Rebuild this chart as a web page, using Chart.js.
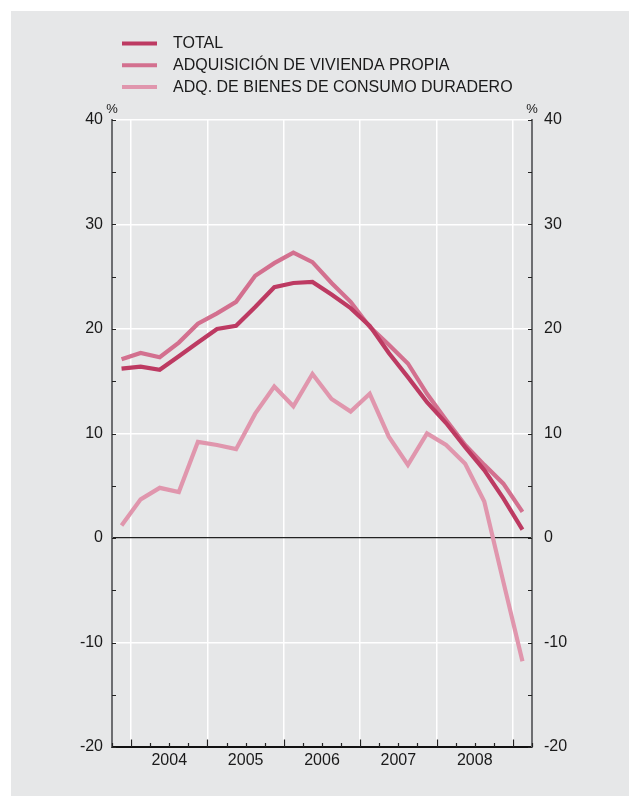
<!DOCTYPE html>
<html lang="es">
<head>
<meta charset="utf-8">
<title>Crédito a hogares</title>
<script src="https://cdn.jsdelivr.net/npm/chart.js@4.4.1/dist/chart.umd.min.js"></script>
<style>
  html, body { margin: 0; padding: 0; background: #fff; }
  canvas { display: block; }
</style>
</head>
<body>
<canvas id="chart" width="629" height="796"></canvas>
<script>
// Quarterly series, 2003 Q4 to 2009 Q1 (year-on-year rate, %)
const quarters = ['2003T4',
  '2004T1', '2004T2', '2004T3', '2004T4',
  '2005T1', '2005T2', '2005T3', '2005T4',
  '2006T1', '2006T2', '2006T3', '2006T4',
  '2007T1', '2007T2', '2007T3', '2007T4',
  '2008T1', '2008T2', '2008T3', '2008T4',
  '2009T1'];
const total = [16.2, 16.4, 16.1, 17.4, 18.7, 20.0, 20.3, 22.1, 24.0, 24.4, 24.5,
  23.3, 22.0, 20.3, 17.7, 15.4, 13.0, 11.0, 8.7, 6.5, 3.8, 0.8];
const vivienda = [17.1, 17.7, 17.3, 18.7, 20.5, 21.5, 22.6, 25.1, 26.3, 27.3, 26.4,
  24.4, 22.6, 20.2, 18.5, 16.7, 13.8, 11.3, 8.9, 7.0, 5.2, 2.5];
const consumo = [1.2, 3.7, 4.8, 4.4, 9.2, 8.9, 8.5, 11.9, 14.5, 12.6, 15.7,
  13.3, 12.1, 13.8, 9.7, 7.0, 10.0, 8.9, 7.1, 3.5, -4.2, -11.8];

const seriesLabels = ['TOTAL', 'ADQUISICIÓN DE VIVIENDA PROPIA', 'ADQ. DE BIENES DE CONSUMO DURADERO'];
const seriesColors = ['#bd3a62', '#d3708f', '#e096ad'];

// x axis: one unit per quarter, year labels centred on each year
const yearLabels = ['2004', '2005', '2006', '2007', '2008'];
const firstYearStart = 1;   // 2004 T1 starts one quarter in
const yMin = -20, yMax = 40, yStep = 5;

const points = s => s.map((v, i) => ({ x: i + 0.5, y: v }));

const BG = '#e6e7e8';
const AXIS_GREY = '#6d6e71';
const TEXT = '#1a1a1a';
const FONT = '"Liberation Sans", Arial, Helvetica, sans-serif';

const panelBackground = {
  id: 'panelBackground',
  beforeDraw(chart) {
    const c = chart.ctx;
    c.save();
    c.fillStyle = '#fff';
    c.fillRect(0, 0, chart.width, chart.height);
    c.fillStyle = BG;
    c.fillRect(11, 11, chart.width - 11, chart.height - 11);
    c.restore();
  }
};

// legend drawn as a vertical list above the plot
const stackedLegend = {
  id: 'stackedLegend',
  afterDraw(chart) {
    const c = chart.ctx;
    c.save();
    c.font = '16px ' + FONT;
    c.textBaseline = 'middle';
    chart.data.datasets.forEach((ds, i) => {
      const y = 44 + i * 21.7;
      c.strokeStyle = ds.borderColor;
      c.lineWidth = 4;
      c.beginPath();
      c.moveTo(122, y - 0.5);
      c.lineTo(157, y - 0.5);
      c.stroke();
      c.fillStyle = TEXT;
      c.fillText(ds.label, 173, y);
    });
    c.restore();
  }
};

// inward tick marks on the three axes plus the % units
const axisMarks = {
  id: 'axisMarks',
  afterDatasetsDraw(chart) {
    const c = chart.ctx;
    const x = chart.scales.x, y = chart.scales.y;
    const a = chart.chartArea;
    c.save();
    c.strokeStyle = '#222';
    c.lineWidth = 1.2;
    for (let v = yMin; v <= yMax; v += yStep) {
      const py = Math.round(y.getPixelForValue(v)) + 0.5;
      c.beginPath();
      c.moveTo(a.left, py); c.lineTo(a.left + 4, py);
      c.moveTo(a.right, py); c.lineTo(a.right - 4, py);
      c.stroke();
    }
    for (let q = 0; q <= quarters.length; q++) {
      const px = Math.round(x.getPixelForValue(q)) + 0.5;
      const len = (q - firstYearStart) % 4 === 0 ? 7.5 : 4;
      c.beginPath();
      c.moveTo(px, a.bottom); c.lineTo(px, a.bottom - len);
      c.stroke();
    }
    c.fillStyle = TEXT;
    c.font = '13px ' + FONT;
    c.textAlign = 'center';
    c.textBaseline = 'middle';
    c.fillText('%', a.left, 109);
    c.fillText('%', a.right, 109);
    c.restore();
  }
};

const yearTick = v => {
  const k = (v - firstYearStart - 2) / 4;
  return Number.isInteger(k) && k >= 0 && k < yearLabels.length ? yearLabels[k] : '';
};

new Chart(document.getElementById('chart'), {
  type: 'line',
  data: {
    datasets: [
      { label: seriesLabels[0], data: points(total), borderColor: seriesColors[0] },
      { label: seriesLabels[1], data: points(vivienda), borderColor: seriesColors[1] },
      { label: seriesLabels[2], data: points(consumo), borderColor: seriesColors[2] }
    ]
  },
  options: {
    responsive: false,
    animation: false,
    devicePixelRatio: 1,
    layout: { padding: { top: 120, left: 0, right: 0, bottom: 0 } },
    elements: {
      line: { borderWidth: 4.2, tension: 0, borderJoinStyle: 'miter', borderCapStyle: 'butt' },
      point: { radius: 0 }
    },
    plugins: {
      legend: { display: false },
      tooltip: { enabled: false }
    },
    scales: {
      x: {
        type: 'linear',
        min: 0,
        max: quarters.length,
        afterFit: s => { s.height = 49; },
        afterBuildTicks: s => {
          s.ticks = [];
          for (let q = 0; q <= quarters.length; q++) s.ticks.push({ value: q });
        },
        ticks: {
          autoSkip: false,
          maxRotation: 0,
          padding: 4,
          color: TEXT,
          font: { family: FONT, size: 16 },
          callback: v => yearTick(v)
        },
        grid: {
          drawTicks: false,
          lineWidth: 1.5,
          color: ctx => {
            const v = ctx.tick ? ctx.tick.value : 0;
            return v > 0 && v < quarters.length && (v - firstYearStart) % 4 === 0 ? '#fff' : 'rgba(0,0,0,0)';
          }
        },
        border: { display: true, color: '#111', width: 2 }
      },
      y: {
        position: 'left',
        min: yMin,
        max: yMax,
        afterFit: s => { s.width = 112; },
        ticks: {
          stepSize: yStep,
          padding: 9,
          color: TEXT,
          font: { family: FONT, size: 16 },
          callback: v => (v % 10 === 0 ? v : '')
        },
        grid: {
          drawTicks: false,
          lineWidth: ctx => (ctx.tick && ctx.tick.value === 0 ? 1.3 : 1.5),
          color: ctx => {
            const v = ctx.tick ? ctx.tick.value : 1;
            if (v === 0) return '#222';
            if (v % 10 === 0 && v > yMin) return '#fff';
            return 'rgba(0,0,0,0)';
          }
        },
        border: { display: true, color: AXIS_GREY, width: 2 }
      },
      y2: {
        position: 'right',
        min: yMin,
        max: yMax,
        afterFit: s => { s.width = 97; },
        ticks: {
          stepSize: yStep,
          padding: 12,
          color: TEXT,
          font: { family: FONT, size: 16 },
          callback: v => (v % 10 === 0 ? v : '')
        },
        grid: { drawTicks: false, drawOnChartArea: false },
        border: { display: true, color: AXIS_GREY, width: 2 }
      }
    }
  },
  plugins: [panelBackground, stackedLegend, axisMarks]
});
</script>
</body>
</html>
